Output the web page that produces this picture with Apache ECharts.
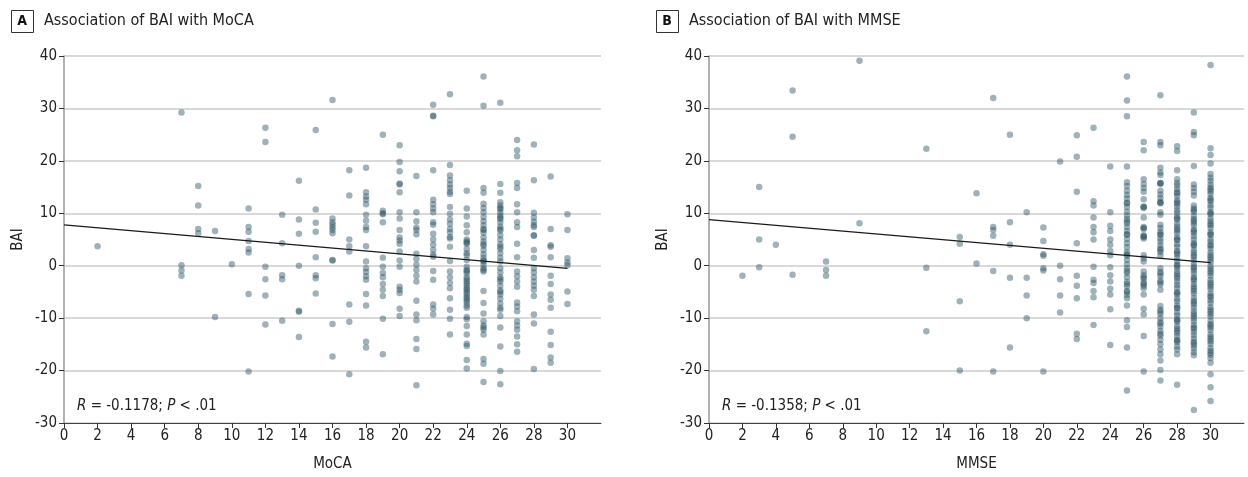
<!DOCTYPE html>
<html>
<head>
<meta charset="utf-8">
<script src="https://cdn.jsdelivr.net/npm/echarts@6/dist/echarts.min.js"></script>
<style>
  html, body { margin: 0; padding: 0; background: #fff; }
  #chart { width: 1248px; height: 477px; }
</style>
</head>
<body>
<div id="chart"></div>
<script>
// BAI values grouped by cognitive score (x)
var mocaColumns = [
  [2, [3.7]],
  [7, [29.2, 0.1, -0.9, -1.9]],
  [8, [15.2, 11.5, 7.0, 6.2]],
  [9, [6.6, -9.8]],
  [10, [0.3]],
  [11, [10.9, 7.4, 6.5, 4.7, 3.2, 2.5, -5.4, -20.2]],
  [12, [26.3, 23.6, -0.2, -2.6, -5.7, -11.2]],
  [13, [9.7, 4.3, -1.8, -2.6, -10.5]],
  [14, [16.2, 8.8, 6.1, 0, -8.6, -8.8, -13.6]],
  [15, [25.9, 10.7, 8.2, 6.5, 1.6, -1.8, -2.4, -5.3]],
  [16, [31.6, 9.0, 8.3, 7.8, 7.3, 6.8, 6.2, 1.1, 1.0, -11.1, -17.3]],
  [17, [18.2, 13.4, 5.0, 3.7, 2.7, -7.4, -10.7, -20.7]],
  [18, [18.7, 14.0, 13.2, 12.6, 11.7, 9.7, 8.6, 7.4, 6.8, 3.7, 0.8, -0.5, -1.2, -2.0, -2.7, -5.4, -7.6, -14.5, -15.6]],
  [19, [25.0, 10.5, 10.0, 9.8, 8.3, 1.5, -0.2, -1.4, -2.2, -3.5, -4.6, -5.8, -10.1, -16.9]],
  [20, [23.0, 19.8, 18.0, 15.7, 15.5, 14.0, 10.2, 9.0, 6.8, 5.4, 4.8, 4.2, 2.7, 1.0, -0.2, -4.0, -4.6, -5.2, -8.2, -9.6]],
  [21, [17.1, 10.2, 8.5, 7.3, 6.8, 6.0, 2.3, 1.3, 0.2, -0.8, -1.9, -3.0, -6.7, -9.3, -10.4, -14.0, -15.9, -22.8]],
  [22, [30.7, 28.6, 28.5, 18.2, 12.6, 11.7, 10.9, 10.2, 8.3, 7.8, 6.1, 5.0, 4.0, 3.0, 2.1, 1.7, -1.0, -2.7, -7.4, -8.2, -9.3]],
  [23, [32.7, 19.2, 17.2, 16.3, 15.5, 14.8, 14.1, 13.7, 11.2, 9.9, 8.8, 8.0, 7.0, 6.4, 5.5, 5.2, 3.6, 0.9, -1.1, -2.2, -3.3, -4.3, -6.2, -8.4, -10.1, -13.1]],
  [24, [14.3, 10.9, 9.4, 7.7, 6.4, 5.0, 4.4, 4.2, 3.2, 2.0, 1.1, -0.2, -0.8, -1.4, -2.2, -2.6, -3.0, -3.8, -4.3, -4.6, -5.4, -5.9, -6.2, -7.0, -7.6, -8.0, -9.8, -11.5, -13.1, -14.9, -15.3, -18.0, -19.6,
        4.6, 2.4, -1.0, -3.4, -5.0, -6.6, -10.2]],
  [25, [36.1, 30.5, 14.8, 13.9, 11.8, 11.0, 10.2, 8.5, 7.7, 7.0, 6.3, 5.4, 4.6, 3.8, 3.0, 2.2, 1.5, 0.8, 0.2, -0.5, -1.1, -4.8, -7.1, -9.1, -10.6, -11.4, -12.2, -13.1, -17.8, -18.7, -22.2,
        9.3, 6.8, 4.1, 1.0, -0.8, -11.8]],
  [26, [31.1, 15.6, 13.9, 12.1, 11.5, 10.8, 10.2, 9.6, 8.9, 8.3, 7.5, 6.7, 5.8, 5.0, 4.1, 3.2, 2.4, 1.5, 0.8, -0.5, -1.3, -2.2, -3.0, -3.8, -4.7, -5.5, -6.3, -7.2, -8.0, -9.6, -11.8, -15.4, -20.1, -22.6,
        11.0, 9.2, 7.0, 3.6, -2.6, -5.0, -8.4]],
  [27, [24.0, 22.0, 20.9, 15.8, 14.8, 11.7, 10.2, 8.3, 7.4, 4.2, 1.6, -1.1, -2.0, -3.0, -4.0, -7.0, -7.8, -8.7, -10.6, -11.4, -12.2, -13.5, -15.0, -16.4]],
  [28, [23.1, 16.3, 10.1, 9.2, 8.4, 7.7, 7.4, 5.8, 5.7, 3.0, 1.5, -0.5, -1.3, -2.2, -3.0, -3.8, -4.6, -5.8, -9.3, -11.0, -19.7]],
  [29, [17.0, 7.0, 3.9, 3.6, 1.6, -1.9, -3.5, -5.5, -6.5, -8.0, -12.6, -15.1, -17.5, -18.5]],
  [30, [9.8, 6.8, 1.4, 0.6, 0.1, -4.9, -7.3]]
];

var mmseColumns = [
  [2, [-1.9]],
  [3, [15.0, 5.0, -0.3]],
  [4, [4.0]],
  [5, [33.4, 24.6, -1.7]],
  [7, [0.8, -0.8, -1.9]],
  [9, [39.1, 8.1]],
  [13, [22.3, -0.4, -12.5]],
  [15, [5.5, 4.2, -6.8, -20.0]],
  [16, [13.8, 0.4]],
  [17, [32.0, 7.4, 6.8, 5.7, -1.0, -20.2]],
  [18, [25.0, 8.3, 4.0, -2.3, -15.6]],
  [19, [10.2, -2.3, -5.7, -10.0]],
  [20, [7.3, 4.7, 2.2, 1.9, -0.5, -0.9, -20.2]],
  [21, [19.9, 0.0, -2.6, -5.7, -8.9]],
  [22, [24.9, 20.8, 14.1, 4.3, -1.9, -3.8, -6.2, -13.0, -14.0]],
  [23, [26.3, 12.3, 11.5, 9.2, 7.4, 6.4, 5.0, -0.2, -2.7, -3.3, -4.8, -6.0, -11.3]],
  [24, [18.9, 10.2, 7.6, 6.6, 5.0, 4.0, 2.8, 2.0, -0.3, -1.8, -3.0, -4.4, -5.5, -8.3, -15.1]],
  [25, [36.1, 31.5, 28.5, 18.9, 15.9, 15.2, 14.3, 13.5, 12.8, 11.9, 11.2, 10.3, 9.6, 8.9, 8.1, 7.4, 6.6, 5.9, 5.1, 4.3, 3.5, 2.6, 1.9, 1.1, 0.3, -0.5, -1.4, -2.2, -3.1, -3.9, -4.8, -5.6, -6.2, -7.6, -10.4, -11.7, -15.6, -23.8,
        12.0, 8.5, 6.0, 2.2, -1.0, -3.5, -5.0]],
  [26, [23.6, 22.0, 16.5, 15.6, 14.8, 14.1, 12.7, 11.3, 11.0, 9.2, 7.4, 7.0, 5.8, 5.5, 5.2, 2.0, 1.4, 0.8, -1.1, -1.8, -2.5, -3.2, -3.8, -4.3, -5.5, -8.2, -9.3, -13.4, -20.2,
        11.2, 7.2, 5.6, -2.2, -3.5]],
  [27, [32.5, 23.6, 23.0, 18.7, 17.8, 17.3, 15.8, 15.6, 14.3, 13.6, 12.9, 12.2, 11.9, 10.2, 9.7, 7.8, 7.2, 6.5, 5.9, 5.2, 4.6, 3.9, 3.3, 2.6, 1.9, -0.5, -1.2, -2.0, -2.8, -3.6, -4.6, -7.7, -8.4, -9.2, -10.0, -10.8, -11.6, -12.4, -13.3, -14.1, -15.0, -16.0, -16.9, -18.1, -19.9, -21.9,
        15.8, 12.0, 6.0, 3.0, -1.5, -3.2, -8.8, -11.0, -13.0]],
  [28, [22.8, 21.9, 18.2, 16.5, 15.8, 15.3, 14.6, 13.8, 13.3, 12.5, 12.1, 11.3, 10.6, 10.1, 9.4, 8.8, 8.0, 7.5, 6.7, 6.2, 5.4, 4.9, 4.1, 3.6, 2.8, 2.2, 1.5, 0.9, 0.2, -0.4, -1.1, -1.6, -2.4, -3.0, -3.7, -4.2, -5.0, -5.5, -6.3, -6.8, -7.6, -8.1, -8.9, -9.5, -10.2, -10.7, -11.5, -12.0, -12.8, -13.4, -14.1, -14.6, -15.4, -16.0, -16.9, -22.7,
        14.0, 11.8, 9.0, 7.0, 5.0, 2.5, 0.0, -2.0, -5.2, -8.0, -10.4, -12.4, -14.3]],
  [29, [29.2, 25.5, 24.9, 19.0, 15.5, 14.8, 14.1, 13.4, 11.5, 10.9, 10.3, 9.5, 8.9, 8.2, 7.7, 6.9, 6.3, 5.6, 5.0, 4.3, 3.8, 3.0, 2.5, 1.7, 1.1, 0.4, -0.2, -0.9, -1.5, -2.2, -2.8, -3.5, -4.0, -4.8, -5.3, -6.1, -6.7, -7.4, -8.0, -8.7, -9.2, -10.0, -10.6, -11.3, -11.8, -12.6, -13.2, -13.9, -14.5, -15.2, -15.8, -16.5, -17.1, -27.5,
        10.6, 8.6, 6.6, 4.0, 2.0, -0.5, -2.5, -4.4, -7.0, -9.6, -12.0, -14.8]],
  [30, [38.3, 22.4, 21.1, 19.5, 17.5, 16.8, 16.2, 15.5, 14.9, 14.2, 13.7, 12.9, 12.3, 11.6, 11.1, 10.3, 9.8, 9.0, 8.5, 7.7, 7.2, 6.4, 5.9, 5.1, 4.6, 3.8, 3.3, 2.5, 2.0, 1.2, 0.7, -0.1, -0.6, -1.4, -1.9, -2.7, -3.2, -4.0, -4.5, -5.3, -5.8, -6.6, -7.1, -7.9, -8.4, -9.2, -9.7, -10.5, -11.1, -11.8, -12.3, -13.1, -13.6, -14.4, -14.9, -15.7, -16.2, -17.0, -17.6, -18.5, -20.7, -23.2, -25.8,
        14.6, 12.6, 10.0, 8.0, 6.0, 4.0, 1.6, -1.0, -3.6, -6.0, -8.8, -11.4, -14.0, -16.6]]
];

// fitted regression lines (endpoints at x = 0 and x = 30)
var mocaFit = [[0, 7.8], [30, -0.5]];
var mmseFit = [[0, 8.8], [30, 0.6]];

var xTicks = [0, 2, 4, 6, 8, 10, 12, 14, 16, 18, 20, 22, 24, 26, 28, 30];
var panelTitles = ['Association of BAI with MoCA', 'Association of BAI with MMSE'];
var panelLetters = ['A', 'B'];
var xNames = ['MoCA', 'MMSE'];
var stats = [['-0.1178', '.01'], ['-0.1358', '.01']];

var FONT = "'DejaVu Sans Condensed', 'Liberation Sans Narrow', 'Open Sans', sans-serif";

function toPoints(cols) {
  var out = [];
  cols.forEach(function (c) {
    c[1].forEach(function (v) { out.push([c[0], v]); });
  });
  return out;
}

var chart = echarts.init(document.getElementById('chart'), null, { renderer: 'canvas' });

var grids = [
  { left: 64, top: 56, width: 537, height: 370 },
  { left: 709, top: 56, width: 535, height: 370 }
];

function xAxisFor(i) {
  return {
    gridIndex: i,
    type: 'value',
    min: 0, max: 32, interval: 2,
    name: xNames[i],
    nameLocation: 'middle',
    nameGap: 34,
    nameTextStyle: { fontFamily: FONT, fontSize: 15, color: '#222' },
    axisLine: { show: true, onZero: false, lineStyle: { color: '#444', width: 1 } },
    axisTick: { show: true, customValues: xTicks, length: 5, lineStyle: { color: '#333' } },
    axisLabel: {
      customValues: xTicks,
      margin: 6,
      fontFamily: FONT, fontSize: 15, color: '#222',
      formatter: function (v) { return v > 30 ? '' : v; }
    },
    splitLine: { show: false }
  };
}

function yAxisFor(i) {
  return {
    gridIndex: i,
    type: 'value',
    min: -30, max: 40, interval: 10,
    name: 'BAI',
    nameLocation: 'middle',
    nameGap: 38,
    nameRotate: 90,
    nameTextStyle: { fontFamily: FONT, fontSize: 15, color: '#222' },
    axisLine: { show: true, onZero: false, lineStyle: { color: '#999', width: 1.5 } },
    axisTick: { show: true, length: 5, lineStyle: { color: '#333' } },
    axisLabel: { margin: 7, fontFamily: FONT, fontSize: 15, color: '#222' },
    splitLine: { show: true, lineStyle: { color: '#d9d9d9', width: 2 } }
  };
}

function scatterFor(i, cols) {
  return {
    type: 'scatter',
    xAxisIndex: i, yAxisIndex: i,
    symbolSize: 6.5,
    itemStyle: { color: '#2d5563', opacity: 0.45 },
    data: toPoints(cols),
    z: 3
  };
}

function fitFor(i, pts) {
  return {
    type: 'line',
    xAxisIndex: i, yAxisIndex: i,
    symbol: 'none',
    lineStyle: { color: '#1a1a1a', width: 1.2 },
    data: pts,
    z: 4
  };
}

var graphics = [];
[0, 1].forEach(function (i) {
  var ox = i === 0 ? 0 : 645;
  graphics.push({
    type: 'rect', left: ox + 11, top: 10,
    shape: { width: 22, height: 22 },
    style: { fill: '#fff', stroke: '#333', lineWidth: 1 }
  });
  graphics.push({
    type: 'text', x: ox + 22, y: 21,
    style: { text: panelLetters[i], fontFamily: FONT, fontSize: 14, fontWeight: 'bold', fill: '#111', align: 'center', verticalAlign: 'middle' }
  });
  graphics.push({
    type: 'text', x: ox + 44, y: 21,
    style: { text: panelTitles[i], fontFamily: FONT, fontSize: 16, fill: '#222', verticalAlign: 'middle' }
  });
  graphics.push({
    type: 'text', x: grids[i].left + 13, y: 406,
    style: {
      text: '{it|R} = ' + stats[i][0] + '; {it|P} < ' + stats[i][1],
      fontFamily: FONT, fontSize: 15, fill: '#222', verticalAlign: 'middle',
      rich: { it: { fontStyle: 'italic', fontFamily: FONT, fontSize: 15, fill: '#222' } }
    }
  });
});

var option = {
  backgroundColor: '#fff',
  animation: false,
  grid: grids,
  xAxis: [xAxisFor(0), xAxisFor(1)],
  yAxis: [yAxisFor(0), yAxisFor(1)],
  series: [
    scatterFor(0, mocaColumns),
    fitFor(0, mocaFit),
    scatterFor(1, mmseColumns),
    fitFor(1, mmseFit)
  ],
  graphic: graphics
};

chart.setOption(option);
</script>
</body>
</html>
